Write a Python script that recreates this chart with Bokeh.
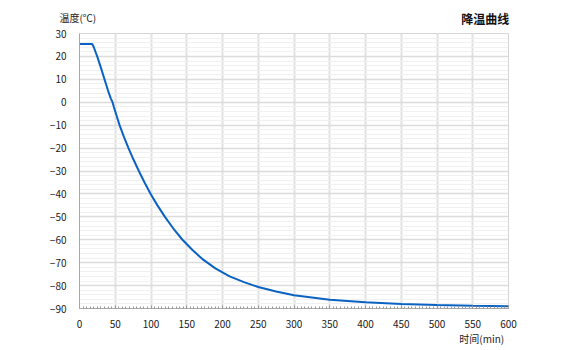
from bokeh.plotting import figure
from bokeh.models import Label, SingleIntervalTicker, Range1d
from bokeh.embed import file_html
from bokeh.resources import INLINE

title_text = "降温曲线"
y_title = "温度(℃)"
x_title = "时间(min)"

time_min = [0, 10, 18, 20, 25, 30, 35, 40, 44, 46, 48, 52, 56, 62, 68.5, 75.5, 83, 91,
            99.5, 109, 119.5, 131, 144, 158, 173, 190, 210, 230, 250, 275, 300, 350,
            400, 450, 500, 550, 600]
temp_c = [25.4, 25.4, 25.4, 24.0, 19.8, 15.0, 10.0, 5.0, 1.5, 0.2, -2.0, -6.0, -10.0,
          -15.0, -20.0, -25.0, -30.0, -35.0, -40.0, -45.0, -50.0, -55.0, -60.0, -64.5,
          -68.7, -72.5, -76.0, -78.5, -80.6, -82.6, -84.2, -86.2, -87.3, -88.0, -88.5,
          -88.8, -89.0]

FONT = "Noto Sans CJK SC"

p = figure(width=580, height=350, output_backend="svg", toolbar_location=None,
           x_range=Range1d(0, 600), y_range=Range1d(-90, 30))
p.min_border_left = 79
p.min_border_right = 72
p.min_border_top = 33
p.min_border_bottom = 42
p.background_fill_color = "white"
p.border_fill_color = "white"
p.outline_line_color = "#d4d4d4"

p.line(time_min, temp_c, line_color="#0a62c2", line_width=2)

xt = SingleIntervalTicker(interval=50, num_minor_ticks=10)
yt = SingleIntervalTicker(interval=10, num_minor_ticks=5)
p.xaxis.ticker = xt
p.yaxis.ticker = yt
p.xgrid.ticker = xt
p.ygrid.ticker = yt

p.xgrid.grid_line_color = "#e0e0e0"
p.xgrid.grid_line_width = 2
p.ygrid.grid_line_color = "#dcdcdc"
p.ygrid.grid_line_width = 1.5
p.ygrid.minor_grid_line_color = "#f0f0f0"
p.ygrid.minor_grid_line_width = 1

for ax in (p.xaxis, p.yaxis):
    ax.axis_line_color = "#a8a8a8"
    ax.axis_line_width = 1
    ax.major_label_text_font = FONT
    ax.major_label_text_font_size = "10px"
    ax.major_label_text_color = "#222222"

p.xaxis.major_tick_in = 3
p.xaxis.major_tick_out = 0
p.xaxis.minor_tick_in = 2
p.xaxis.minor_tick_out = 0
p.xaxis.major_tick_line_color = "#999999"
p.xaxis.minor_tick_line_color = "#999999"
p.xaxis.major_label_standoff = 11

p.yaxis.major_tick_in = 0
p.yaxis.major_tick_out = 0
p.yaxis.minor_tick_line_color = None
p.yaxis.major_label_standoff = 9

p.add_layout(Label(x=-28, y=37.0, text=y_title, text_font=FONT, text_font_size="10px",
                   text_color="#222222", text_align="left", text_baseline="middle"), "above")
p.add_layout(Label(x=601, y=36.6, text=title_text, text_font=FONT, text_font_size="12px",
                   text_color="#111111", text_align="right", text_baseline="middle",
                   text_font_style="bold"), "above")
p.add_layout(Label(x=594, y=-103.0, text=x_title, text_font=FONT, text_font_size="10px",
                   text_color="#222222", text_align="right", text_baseline="middle"), "below")

open("out.html", "w").write(file_html(p, INLINE))
